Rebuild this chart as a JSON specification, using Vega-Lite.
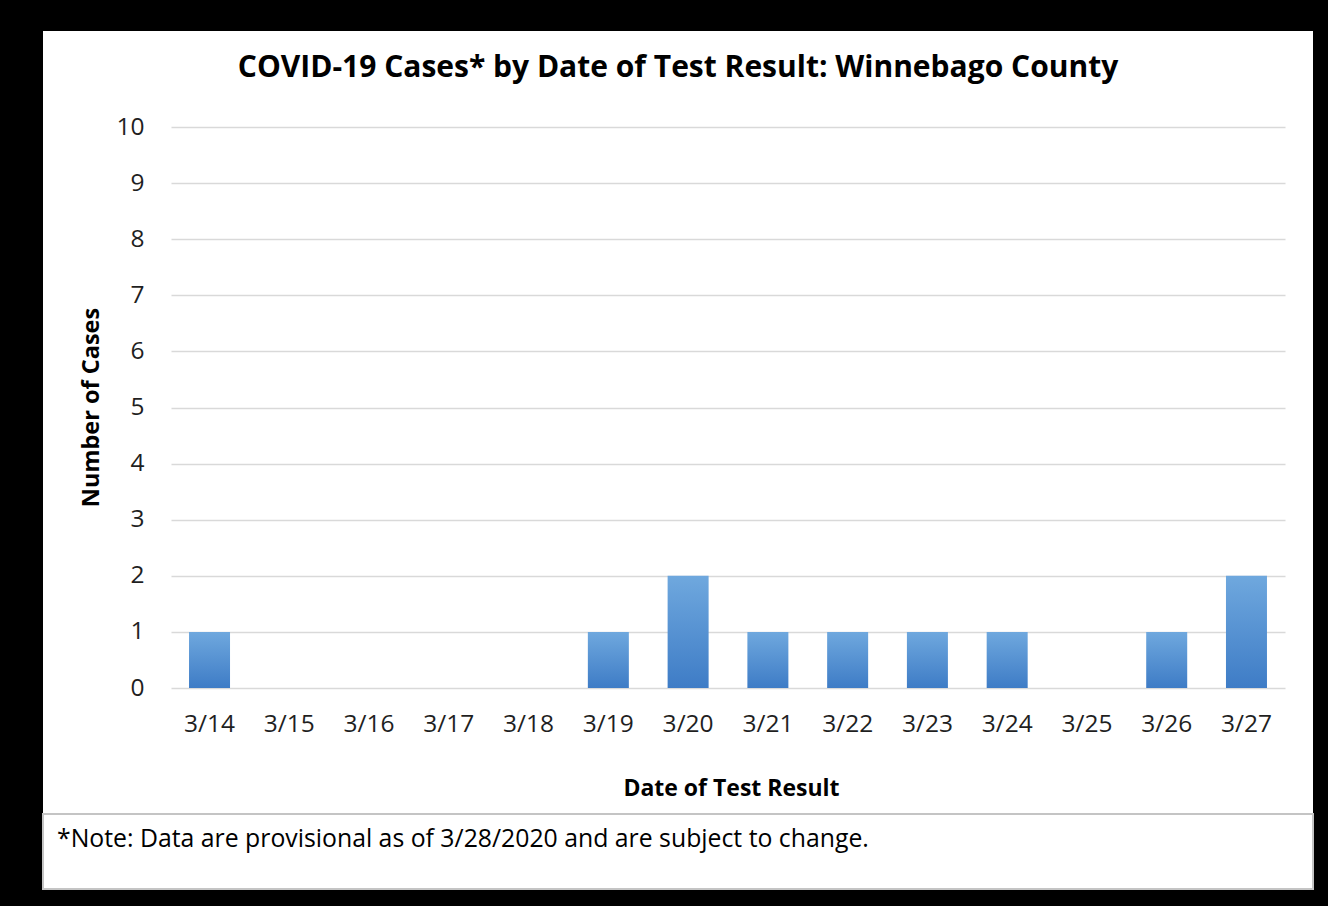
{
  "$schema": "https://vega.github.io/schema/vega-lite/v6.json",
  "background": "#000000",
  "padding": {"left": 42, "top": 31, "right": 16, "bottom": 18},
  "spacing": 0,
  "config": {
    "font": "Open Sans",
    "concat": {"spacing": 0}
  },
  "vconcat": [
    {
      "width": 1270,
      "height": 782,
      "view": {"fill": "#ffffff", "stroke": null},
      "title": {
        "text": "COVID-19 Cases* by Date of Test Result: Winnebago County",
        "font": "Open Sans",
        "fontSize": 30,
        "fontWeight": "bold",
        "color": "#000000",
        "anchor": "middle",
        "frame": "group",
        "baseline": "alphabetic",
        "offset": -76
      },
      "data": {
        "values": [
          {"date": "3/14", "cases": 1},
          {"date": "3/15", "cases": 0},
          {"date": "3/16", "cases": 0},
          {"date": "3/17", "cases": 0},
          {"date": "3/18", "cases": 0},
          {"date": "3/19", "cases": 1},
          {"date": "3/20", "cases": 2},
          {"date": "3/21", "cases": 1},
          {"date": "3/22", "cases": 1},
          {"date": "3/23", "cases": 1},
          {"date": "3/24", "cases": 1},
          {"date": "3/25", "cases": 0},
          {"date": "3/26", "cases": 1},
          {"date": "3/27", "cases": 2}
        ]
      },
      "mark": {
        "type": "bar",
        "color": {
          "gradient": "linear",
          "x1": 0, "y1": 0, "x2": 0, "y2": 1,
          "stops": [
            {"offset": 0, "color": "#6fa8de"},
            {"offset": 1, "color": "#3e7cc6"}
          ]
        }
      },
      "encoding": {
        "x": {
          "field": "date",
          "type": "ordinal",
          "sort": null,
          "scale": {"range": [128, 1242], "paddingInner": 0.486, "paddingOuter": 0.226},
          "axis": {
            "title": "Date of Test Result",
            "orient": "bottom",
            "offset": -125,
            "domain": false,
            "ticks": false,
            "labelAngle": 0,
            "labelFont": "Open Sans",
            "labelFontSize": 24.5,
            "labelColor": "#1f1f1f",
            "labelPadding": 24,
            "titleFont": "Open Sans",
            "titleFontSize": 23,
            "titleFontWeight": "bold",
            "titleColor": "#000000",
            "titleX": 688,
            "titleY": 107,
            "titleBaseline": "alphabetic",
            "titleAlign": "center"
          }
        },
        "y": {
          "field": "cases",
          "type": "quantitative",
          "scale": {"domain": [0, 10], "range": [657, 96], "nice": false, "zero": true},
          "axis": {
            "title": "Number of Cases",
            "values": [0, 1, 2, 3, 4, 5, 6, 7, 8, 9, 10],
            "offset": -128,
            "domain": false,
            "ticks": false,
            "grid": true,
            "gridColor": "#d9d9d9",
            "gridWidth": 1.5,
            "labelFont": "Open Sans",
            "labelFontSize": 24.5,
            "labelColor": "#1f1f1f",
            "labelPadding": 27,
            "titleFont": "Open Sans",
            "titleFontSize": 23.5,
            "titleFontWeight": "bold",
            "titleColor": "#000000",
            "titleX": -73,
            "titleY": 376,
            "titleAngle": 270,
            "titleAlign": "center",
            "titleBaseline": "alphabetic"
          }
        }
      }
    },
    {
      "width": 1270,
      "height": 75,
      "view": {"fill": "#ffffff", "stroke": "#c4c4c4", "strokeWidth": 2},
      "title": {
        "text": "*Note: Data are provisional as of 3/28/2020 and are subject to change.",
        "font": "Open Sans",
        "fontSize": 24.8,
        "fontWeight": "normal",
        "color": "#000000",
        "anchor": "start",
        "frame": "group",
        "baseline": "alphabetic",
        "dx": 14,
        "offset": -58
      },
      "data": {"values": []},
      "mark": "text",
      "encoding": {}
    }
  ]
}
